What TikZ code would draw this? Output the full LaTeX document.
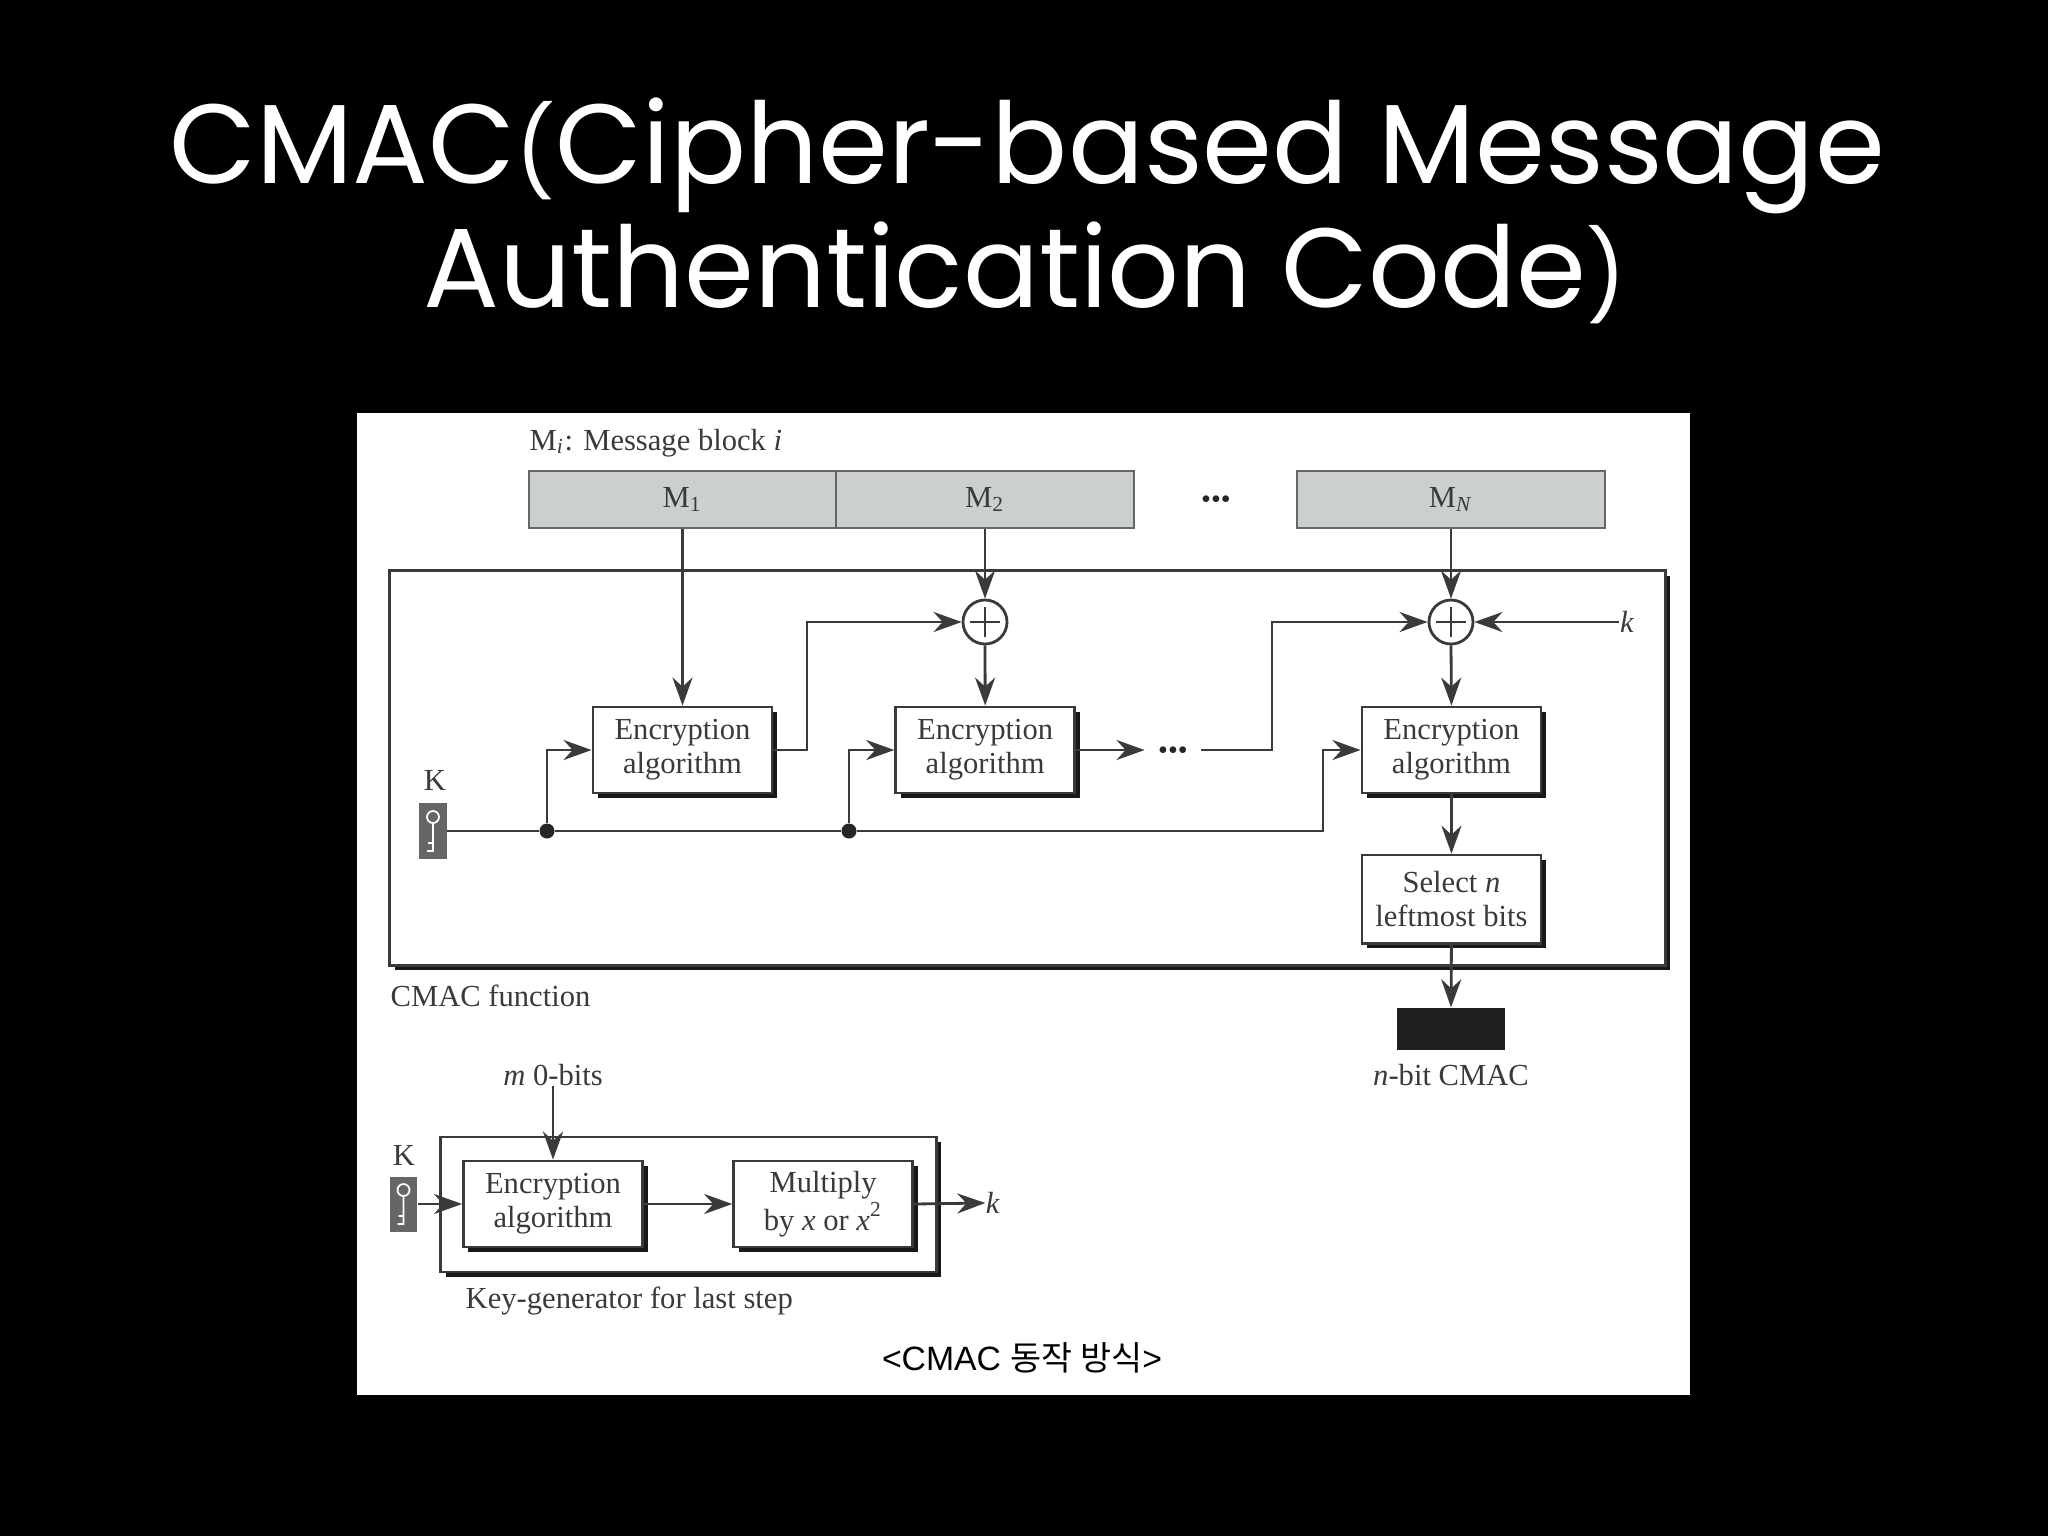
\documentclass[tikz,border=0pt]{standalone}
\usepackage{fontspec}
\setmainfont{Liberation Serif}
\newfontfamily\titlefont{Poppins}
\newfontfamily\capfont{Liberation Sans}
\newfontfamily\krfont{Noto Sans CJK KR}
\usepackage{xcolor}
\usetikzlibrary{arrows.meta}
\usetikzlibrary{shadows}
\definecolor{inkgray}{HTML}{3A3A3A}
\definecolor{blockgray}{HTML}{CBD0CF}
\newcommand{\smallparen}[1]{{\fontsize{25}{25}\selectfont #1}}
\tikzset{
    line/.style = {draw=inkgray, line width=0.8pt},
    conn/.style = {line, -{Stealth[length=2.8mm,width=2mm]}},
    label/.style = {text=inkgray, font=\fontsize{8.7}{9.7}\selectfont, inner sep=0pt},
    headline/.style = {text=white, anchor=base, inner sep=0pt, font=\titlefont\fontsize{32}{35}\selectfont},
    block/.style = {draw=black!60, line width=0.7pt, fill=blockgray, text=inkgray, minimum height=5.7mm, inner sep=0pt,
        font=\fontsize{8.7}{9.7}\selectfont},
    shadowed/.style = {line, fill=white, drop shadow={shadow xshift=0.5mm, shadow yshift=-0.5mm, fill=black!90, opacity=1}},
    algo/.style = {shadowed, text=inkgray, align=center, minimum width=17.9mm, minimum height=8.6mm,
        inner sep=0pt, font=\fontsize{8.7}{9.7}\selectfont},
    xornode/.style = {line, circle, fill=white, minimum size=4.4mm, inner sep=0pt,
        path picture={\draw[inkgray, line width=0.7pt]
            ([xshift=-1.5mm]path picture bounding box.center) -- ([xshift=1.5mm]path picture bounding box.center)
            ([yshift=-1.5mm]path picture bounding box.center) -- ([yshift=1.5mm]path picture bounding box.center);}},
    joint/.style = {circle, fill=black!85, minimum size=1.5mm, inner sep=0pt},
    keybox/.style = {fill=black!60, minimum width=2.7mm, minimum height=5.5mm, inner sep=0pt,
        path picture={\draw[white, line width=0.5pt]
            ([yshift=1.4mm]path picture bounding box.center) circle (0.6mm)
            ([yshift=0.8mm]path picture bounding box.center) -- ([yshift=-2.0mm]path picture bounding box.center)
            -- ++(-0.6mm,0) ([yshift=-1.2mm]path picture bounding box.center) -- ++(-0.5mm,0);}},
    threedots/.style = {text=black!85, font=\fontsize{8}{8}\selectfont, inner ysep=0pt, inner xsep=1.3mm},
}
\begin{document}
\begin{tikzpicture}[x=0.01cm, y=-0.01cm]
    \useasboundingbox (0,0) rectangle (2048,1536);
    \fill[black] (0,0) rectangle (2048,1536);
    \node[headline] (titleA) at (1027,183) {CMAC\smallparen{(}Cipher-based Message};
    \node[headline] (titleB) at (1025,307) {Authentication Code\smallparen{)}};
    \fill[white] (357,413) rectangle (1690,1395);

    % message blocks
    \node[label, anchor=west] (legend) at (529,443) {M\textsubscript{\textit{i}}: Message block \textit{i}};
    \node[block, minimum width=30.7mm] (m1) at (682.5,499.5) {M\textsubscript{1}};
    \node[block, minimum width=29.8mm] (m2) at (985,499.5) {M\textsubscript{2}};
    \node[threedots] (dotsTop) at (1216,502) {•••};
    \node[block, minimum width=30.8mm] (mN) at (1451,499.5) {M\textsubscript{\textit{N}}};

    % CMAC function
    \node[shadowed, minimum width=127.5mm, minimum height=39.4mm, inner sep=0pt] (cmacBox) at (1027.5,768) {};
    \node[label, anchor=west] (cmacName) at (390,996) {CMAC function};
    \node[algo] (enc1) at (682.5,750) {Encryption\\algorithm};
    \node[algo, right of=enc1, node distance=30.25mm] (enc2) {Encryption\\algorithm};
    \node[algo, right of=enc2, node distance=46.6mm] (enc3) {Encryption\\algorithm};
    \node[algo, below of=enc3, node distance=14.9mm, minimum height=8.8mm] (sel) {Select \textit{n}\\leftmost bits};
    \node[xornode] (xorA) at (985,622) {};
    \node[xornode] (xorB) at (1451,622) {};
    \node[threedots] (dotsMid) at (1173,753) {•••};
    \node[label] (kIn) at (1627,622) {\textit{k}};
    \node[label] (keyNameA) at (435,780) {K};
    \node[keybox] (keyA) at (433,831) {};
    \node[joint] (dotA) at (547,831) {};
    \node[joint] (dotB) at (849,831) {};
    \coordinate (bendA) at (807,700);
    \coordinate (bendB) at (1272,700);
    \coordinate (bendC) at (1323,831);

    \draw[conn] (m1.south) -- (enc1.north);
    \draw[conn] (m2.south) -- (xorA.north);
    \draw[conn] (mN.south) -- (xorB.north);
    \draw[conn] (xorA.south) -- (enc2.north);
    \draw[conn] (xorB.south) -- (enc3.north);
    \draw[conn] (enc1.east) -| (bendA) |- (xorA.west);
    \draw[conn] (enc2.east) -- (dotsMid.west |- enc2.east);
    \draw[conn] (dotsMid.east |- enc2.east) -| (bendB) |- (xorB.west);
    \draw[conn] (kIn.west) -- (xorB.east);
    \draw[line] (keyA.east) -- (dotA) -- (dotB);
    \draw[conn] (dotA) |- (enc1.west);
    \draw[conn] (dotB) |- (enc2.west);
    \draw[conn] (dotB) -- (bendC) |- (enc3.west);
    \draw[conn] (enc3.south) -- (sel.north);

    % output
    \node[fill=black!88, minimum width=10.8mm, minimum height=4.2mm, inner sep=0pt] (tag) at (1451,1029) {};
    \node[label] (tagName) at (1451,1075) {\textit{n}-bit CMAC};
    \draw[conn] (sel.south) -- (tag.north);

    % key generator
    \node[shadowed, minimum width=49.5mm, minimum height=13.5mm, inner sep=0pt] (genBox) at (688.5,1204.5) {};
    \node[algo] (encK) at (553,1204) {Encryption\\algorithm};
    \node[algo, right of=encK, node distance=27mm] (mult) {Multiply\\by \textit{x} or \textit{x}\textsuperscript{2}};
    \node[label] (mZero) at (553,1075) {\textit{m} 0-bits};
    \node[label] (keyNameB) at (404,1155) {K};
    \node[keybox] (keyB) at (403.5,1204) {};
    \node[label] (kOut) at (993,1203) {\textit{k}};
    \node[label, anchor=west] (genName) at (465,1301) {Key-generator for last step};
    \draw[conn] (mZero.south) -- (encK.north);
    \draw[conn] (keyB.east) -- (encK.west);
    \draw[conn] (encK.east) -- (mult.west);
    \draw[conn] (mult.east) -- (kOut.west);

    \node[text=black, inner sep=0pt, font=\capfont\fontsize{9.6}{11}\selectfont] (caption) at (1022,1358)
        {<CMAC {\krfont 동작 방식}>};
\end{tikzpicture}
\end{document}
